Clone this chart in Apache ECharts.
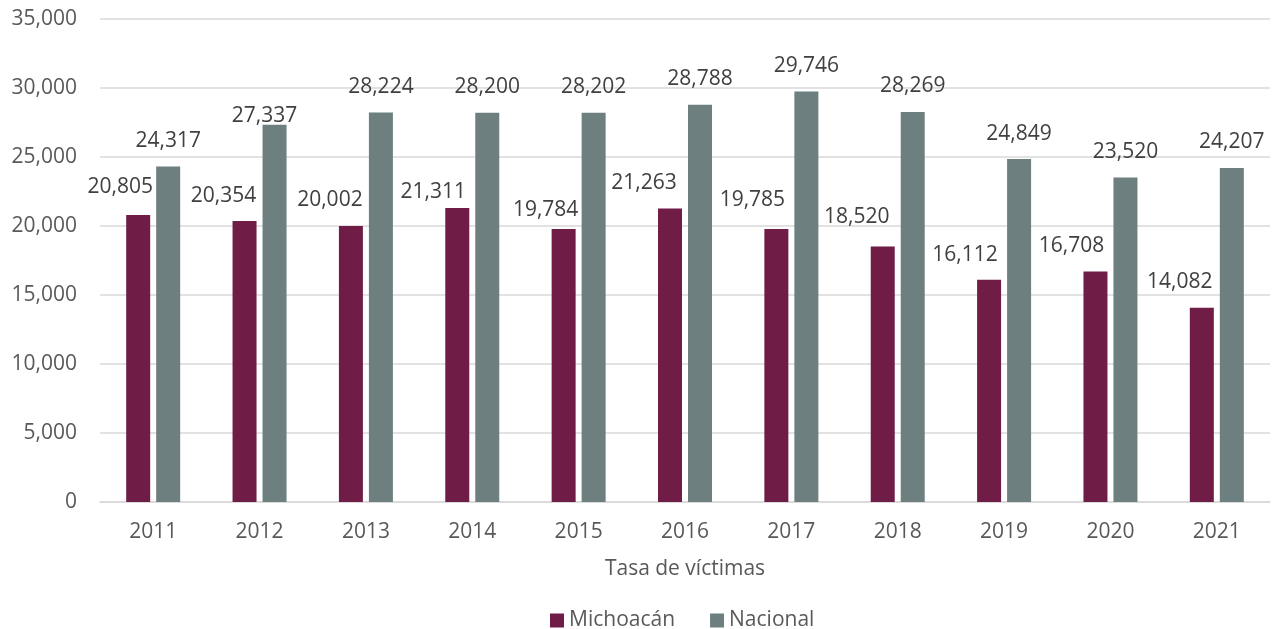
<!DOCTYPE html>
<html><head><meta charset="utf-8">
<script src="https://cdn.jsdelivr.net/npm/echarts@6/dist/echarts.min.js"></script>
<style>html,body{margin:0;padding:0;background:#fff}#c{width:1282px;height:629px}</style>
</head><body><div id="c"></div>
<script>
const categories = ['2011','2012','2013','2014','2015','2016','2017','2018','2019','2020','2021'];
const michoacan = [20805, 20354, 20002, 21311, 19784, 21263, 19785, 18520, 16112, 16708, 14082];
const nacional = [24317, 27337, 28224, 28200, 28202, 28788, 29746, 28269, 24849, 23520, 24207];
const yTicks = [0, 5000, 10000, 15000, 20000, 25000, 30000, 35000];

// label nudges (layout only), as in the original chart's label placement
const michoacanLabelNudge = [[-18,-2],[-21,0],[-21,0],[-24,10],[-18,7],[-26,0],[-24,-3],[-26,-4],[-24,1],[-24,0],[-22,0]];
const nacionalLabelNudge = [[0,0],[-10,17],[0,0],[0,0],[0,0],[0,0],[0,0],[0,0],[0,0],[0,0],[0,0]];

const FONT = '"Open Sans", sans-serif';
const FS = 21;
const fmt = v => v.toLocaleString('en-US');
const withNudge = (vals, nudge) => vals.map((v, i) => ({ value: v, label: { offset: nudge[i] } }));

const chart = echarts.init(document.getElementById('c'));
chart.setOption({
  animation: false,
  textStyle: { fontFamily: FONT },
  grid: { left: 100, right: 12, top: 19, bottom: 127, containLabel: false },
  legend: {
    top: 605, left: 545, icon: 'rect', itemWidth: 14, itemHeight: 14, itemGap: 35,
    textStyle: { fontSize: FS, color: '#595959', fontFamily: FONT },
    data: ['Michoacán', 'Nacional']
  },
  xAxis: {
    type: 'category', data: categories,
    name: 'Tasa de víctimas', nameLocation: 'middle', nameGap: 57,
    nameTextStyle: { fontSize: FS, color: '#595959', fontFamily: FONT },
    axisLine: { lineStyle: { color: '#d9d9d9', width: 1.5 } },
    axisTick: { show: false },
    axisLabel: { fontSize: FS, color: '#595959', margin: 20, fontFamily: FONT }
  },
  yAxis: {
    type: 'value', min: yTicks[0], max: yTicks[yTicks.length - 1], interval: 5000,
    axisLine: { show: false }, axisTick: { show: false },
    splitLine: { lineStyle: { color: '#d9d9d9', width: 1.5 } },
    axisLabel: { fontSize: FS, color: '#595959', margin: 23, fontFamily: FONT, formatter: v => fmt(v) }
  },
  series: [
    {
      name: 'Michoacán', type: 'bar', data: withNudge(michoacan, michoacanLabelNudge), barWidth: 24, barGap: '25%',
      itemStyle: { color: '#6F1D46' },
      label: { show: true, position: 'top', distance: 15, fontSize: FS, color: '#404040', fontFamily: FONT, formatter: p => fmt(p.value) }
    },
    {
      name: 'Nacional', type: 'bar', data: withNudge(nacional, nacionalLabelNudge), barWidth: 24,
      itemStyle: { color: '#6D7F7E' },
      label: { show: true, position: 'top', distance: 15, fontSize: FS, color: '#404040', fontFamily: FONT, formatter: p => fmt(p.value) }
    }
  ]
});
</script></body></html>
